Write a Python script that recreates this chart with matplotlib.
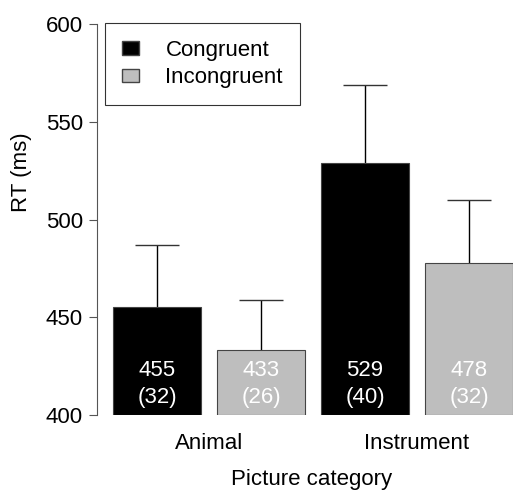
import matplotlib
matplotlib.use("Agg")
import matplotlib.pyplot as plt
from matplotlib.patches import Patch
import numpy as np

plt.rcParams['font.family'] = ['Liberation Sans', 'DejaVu Sans']

# DATA
groups = ['Animal', 'Instrument']
conditions = ['Congruent', 'Incongruent']
means = [455, 433, 529, 478]      # Animal-Cong, Animal-Incong, Instr-Cong, Instr-Incong
sds = [32, 26, 40, 32]
colors = ['black', '#bebebe', 'black', '#bebebe']
yticks = [400, 450, 500, 550, 600]

W, H = 513, 493
fig = plt.figure(figsize=(W/100, H/100), dpi=100)
# axes spans value 400 (px 415) to 600 (px 24), x from spine (px 97) to right edge
ax = fig.add_axes([97/W, 1-415/H, 1-97/W, (415-24)/H])

x = np.arange(len(means))
width = 0.846
ax.bar(x, np.array(means) - 400, bottom=400, width=width, color=colors,
       edgecolor='#444444', linewidth=0.8, zorder=2)

# upper error bars only
for xi, m, s in zip(x, means, sds):
    ax.vlines(xi, m, m + s, color='black', lw=1, zorder=1)
    ax.hlines(m + s, xi - width/4, xi + width/4, color='#333333', lw=1, zorder=1)
    ax.text(xi, 416, f'{m}\n({s})', color='white', ha='center', va='center',
            fontsize=16, linespacing=1.4, zorder=3)

ax.set_xlim(-0.577, 3.423)
ax.set_ylim(400, 600)
ax.set_yticks(yticks)
ax.set_xticks([])
for sp in ['top', 'right', 'bottom']:
    ax.spines[sp].set_visible(False)
ax.spines['left'].set_bounds(400, 600)
ax.spines['left'].set_color('#555555')
ax.tick_params(axis='y', length=6, width=0.8, color='#555555', labelsize=16, pad=4)
ax.patch.set_visible(False)

# group labels
for gi, g in enumerate(groups):
    ax.text(2*gi + 0.5, -0.072, g, transform=ax.get_xaxis_transform(),
            ha='center', va='center', fontsize=16)

fig.text(312/W, 1-480/H, 'Picture category', ha='center', va='center', fontsize=16)
fig.text(21/W, 1-172/H, 'RT (ms)', ha='center', va='center', rotation=90, fontsize=16)

handles = [Patch(facecolor='black', edgecolor='#444444'),
           Patch(facecolor='#bebebe', edgecolor='#444444')]
leg = fig.legend(handles, conditions, loc='upper left',
                 bbox_to_anchor=(105/W, 1-23/H), bbox_transform=fig.transFigure,
                 fontsize=16, frameon=True, fancybox=False, borderaxespad=0,
                 borderpad=0.75, labelspacing=0.3, handlelength=0.77,
                 handleheight=0.55, handletextpad=1.2)
leg.get_frame().set_edgecolor('black')
leg.get_frame().set_linewidth(0.8)

fig.savefig('out.png', dpi=100)
